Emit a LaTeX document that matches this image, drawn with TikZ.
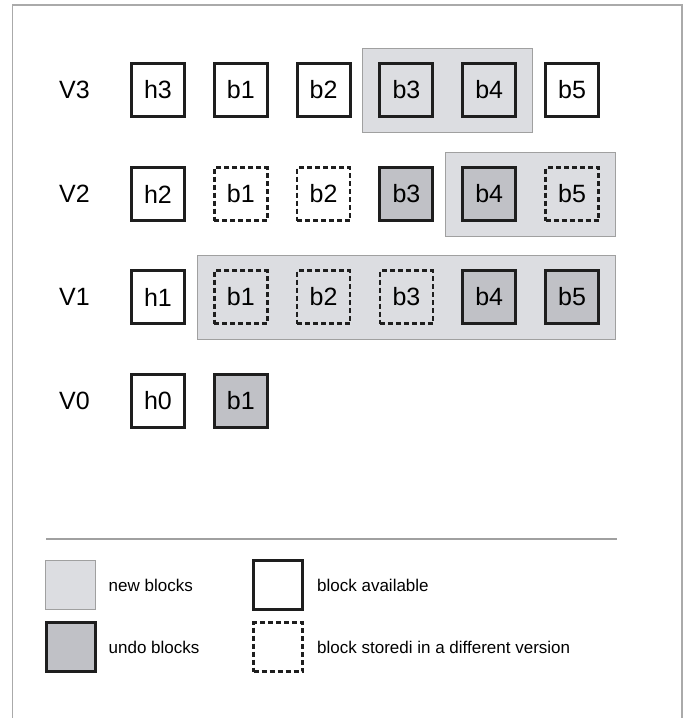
\documentclass[tikz,border=0pt]{standalone}
\usepackage{fontspec}
\setmainfont{Liberation Sans}
\usetikzlibrary{fit,backgrounds}
\definecolor{newfill}{RGB}{220,221,225}
\definecolor{undofill}{RGB}{192,193,198}
\definecolor{grpline}{RGB}{160,160,160}
\definecolor{frameline}{RGB}{170,170,170}
\definecolor{boxline}{RGB}{30,30,30}
\tikzset{
  blk/.style={draw=boxline, line width=3pt, minimum width=53pt, minimum height=53pt, inner sep=0pt, font=\fontsize{25}{25}\selectfont},
  avail/.style={blk, fill=white},
  undo/.style={blk, fill=undofill},
  stored/.style={blk, line width=2.6pt, dash pattern=on 5pt off 3pt},
  vlabel/.style={inner sep=0pt, font=\fontsize{25}{25}\selectfont},
  grp/.style={draw=grpline, line width=1pt, fill=newfill, inner xsep=15.5pt, inner ysep=14pt},
  legtext/.style={anchor=west, inner sep=0pt, font=\fontsize{17}{17}\selectfont},
}
\begin{document}
\begin{tikzpicture}[x=1pt,y=-1pt]
\useasboundingbox (0,0) rectangle (696,718);
% frame
\draw[frameline, line width=1.5pt] (12.5,718) -- (12.5,5) -- (682,5) -- (682,718);

% V3 row
\node[vlabel] (lv3) at (74.5,90) {V3};
\node[avail] (v3h) at (158,90) {h3};
\node[avail] (v3b1) at (240.8,90) {b1};
\node[avail] (v3b2) at (323.6,90) {b2};
\node[avail, fill=newfill] (v3b3) at (406.4,90) {b3};
\node[avail, fill=newfill] (v3b4) at (489.2,90) {b4};
\node[avail] (v3b5) at (572,90) {b5};

% V2 row
\node[vlabel] (lv2) at (74.5,194) {V2};
\node[avail] (v2h) at (158,194) {h2};
\node[stored] (v2b1) at (240.8,194) {b1};
\node[stored] (v2b2) at (323.6,194) {b2};
\node[undo] (v2b3) at (406.4,194) {b3};
\node[undo] (v2b4) at (489.2,194) {b4};
\node[stored] (v2b5) at (572,194) {b5};

% V1 row
\node[vlabel] (lv1) at (74.5,297) {V1};
\node[avail] (v1h) at (158,297) {h1};
\node[stored] (v1b1) at (240.8,297) {b1};
\node[stored] (v1b2) at (323.6,297) {b2};
\node[stored] (v1b3) at (406.4,297) {b3};
\node[undo] (v1b4) at (489.2,297) {b4};
\node[undo] (v1b5) at (572,297) {b5};

% V0 row
\node[vlabel] (lv0) at (74.5,401) {V0};
\node[avail] (v0h) at (158,401) {h0};
\node[undo] (v0b1) at (240.8,401) {b1};

\begin{scope}[on background layer]
\node[grp, fit=(v3b3)(v3b4)] (g3) {};
\node[grp, fit=(v2b4)(v2b5)] (g2) {};
\node[grp, fit=(v1b1)(v1b5)] (g1) {};
\end{scope}

% legend
\coordinate (ll) at (46,539);
\coordinate (lr) at (617,539);
\draw[grpline, line width=1.2pt] (ll) -- (lr);

\node[draw=grpline, line width=1pt, fill=newfill, minimum width=50pt, minimum height=49pt, inner sep=0pt] (kn) at (70.5,585) {};
\node[undo, minimum width=49pt, minimum height=49pt] (ku) at (71,647) {};
\node[avail, minimum width=49pt, minimum height=49pt] (ka) at (278,585) {};
\node[stored, minimum width=49pt, minimum height=49pt] (ks) at (278,647) {};

\node[legtext] (tn) at (108.5,585) {new blocks};
\node[legtext] (tu) at (108.5,647) {undo blocks};
\node[legtext] (ta) at (317,585) {block available};
\node[legtext] (ts) at (317,647) {block storedi in a different version};
\end{tikzpicture}
\end{document}
